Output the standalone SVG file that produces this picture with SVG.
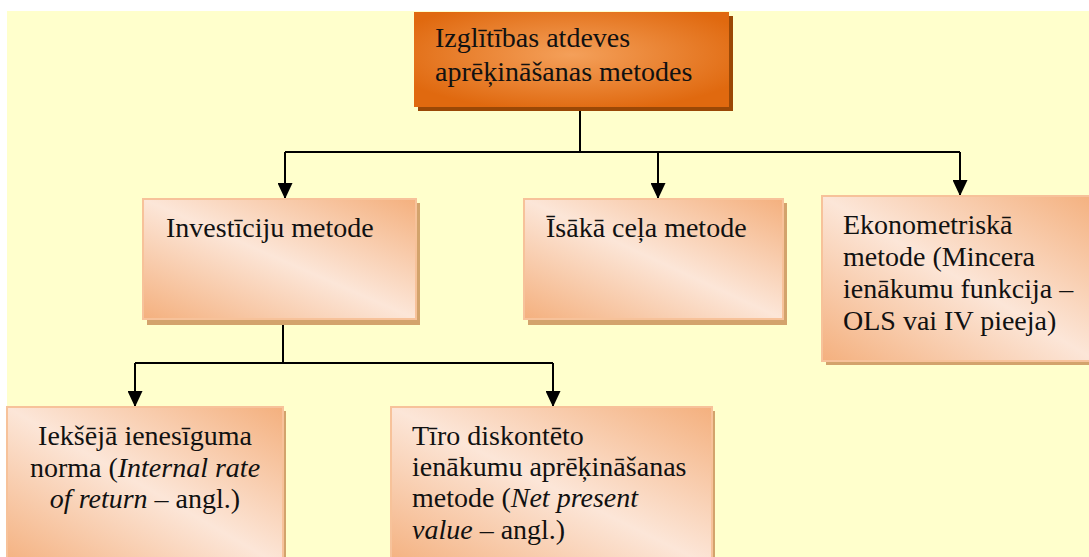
<svg xmlns="http://www.w3.org/2000/svg" width="1089" height="557" viewBox="0 0 1089 557">
  <defs>
    <radialGradient id="gTop" cx="0.5" cy="0.45" r="0.6">
      <stop offset="0" stop-color="#F4A05A"/>
      <stop offset="1" stop-color="#E0690F"/>
    </radialGradient>
    <linearGradient id="gBox" x1="1" y1="0" x2="0" y2="1">
      <stop offset="0" stop-color="#F4B07E"/>
      <stop offset="0.5" stop-color="#FCE6D8"/>
      <stop offset="1" stop-color="#F4B07E"/>
    </linearGradient>
    <!-- filled triangular arrowhead, drawn along +x so orient="auto" points it down the line -->
    <marker id="arrow" viewBox="0 0 16 15" refX="16" refY="7.5" markerWidth="16" markerHeight="15" markerUnits="userSpaceOnUse" orient="auto">
      <path d="M0,0 L16,7.5 L0,15 Z" fill="#000"/>
    </marker>
  </defs>
  <style>
    text { font-family: "Liberation Serif", "Times New Roman", "DejaVu Serif", serif; font-size: 28px; fill: #111; }
    .box { fill: url(#gBox); stroke: #F7C29A; stroke-width: 2; }
    .shadow { fill: #D3A36C; }
    .line { fill: none; stroke: #000; stroke-width: 2; }
  </style>

  <!-- page background -->
  <rect x="0" y="0" width="1089" height="557" fill="#FFFFFF"/>
  <rect x="7" y="11" width="1082" height="546" fill="#FFFFCC"/>

  <!-- connectors -->
  <g id="connectors">
    <path class="line" d="M580,107 V152"/>
    <path class="line" d="M285,152 H960"/>
    <path class="line" d="M285,152 V199" marker-end="url(#arrow)"/>
    <path class="line" d="M658,152 V199" marker-end="url(#arrow)"/>
    <path class="line" d="M960,152 V196" marker-end="url(#arrow)"/>
    <path class="line" d="M283,325 V363"/>
    <path class="line" d="M135,363 H553"/>
    <path class="line" d="M135,363 V407" marker-end="url(#arrow)"/>
    <path class="line" d="M553,363 V407" marker-end="url(#arrow)"/>
  </g>

  <g font-family="Liberation Serif, Times New Roman, serif">
  <!-- root node -->
  <g id="root">
    <rect x="418" y="16" width="315" height="95" fill="#9A4806"/>
    <rect x="414" y="12" width="315" height="95" fill="url(#gTop)"/>
    <text x="435" y="47">Izglītības atdeves</text>
    <text x="435" y="81">aprēķināšanas metodes</text>
  </g>

  <g id="investiciju">
    <rect class="shadow" x="147" y="203" width="273" height="122"/>
    <rect class="box" x="143" y="199" width="273" height="120"/>
    <text x="166" y="237">Investīciju metode</text>
  </g>

  <g id="isaka">
    <rect class="shadow" x="528" y="203" width="259" height="122"/>
    <rect class="box" x="524" y="199" width="259" height="120"/>
    <text x="546" y="237">Īsākā ceļa metode</text>
  </g>

  <g id="ekonometriska">
    <rect class="shadow" x="826" y="200" width="270" height="165"/>
    <rect class="box" x="822" y="196" width="275" height="165"/>
    <text x="843" y="234">Ekonometriskā</text>
    <text x="843" y="266">metode (Mincera</text>
    <text x="843" y="298">ienākumu funkcija –</text>
    <text x="843" y="330">OLS vai IV pieeja)</text>
  </g>

  <g id="iekseja">
    <rect class="shadow" x="11" y="411" width="275" height="160"/>
    <rect class="box" x="7" y="407" width="276" height="160"/>
    <text x="145" y="445" text-anchor="middle">Iekšējā ienesīguma</text>
    <text x="145" y="477" text-anchor="middle">norma (<tspan font-style="italic">Internal rate</tspan></text>
    <text x="145" y="508" text-anchor="middle"><tspan font-style="italic">of return</tspan> – angl.)</text>
  </g>

  <g id="tiro">
    <rect class="shadow" x="395" y="411" width="320" height="160"/>
    <rect class="box" x="391" y="407" width="321" height="160"/>
    <text x="412" y="445">Tīro diskontēto</text>
    <text x="412" y="476">ienākumu aprēķināšanas</text>
    <text x="412" y="507">metode (<tspan font-style="italic">Net present</tspan></text>
    <text x="412" y="539"><tspan font-style="italic">value</tspan> – angl.)</text>
  </g>
  </g>
</svg>
